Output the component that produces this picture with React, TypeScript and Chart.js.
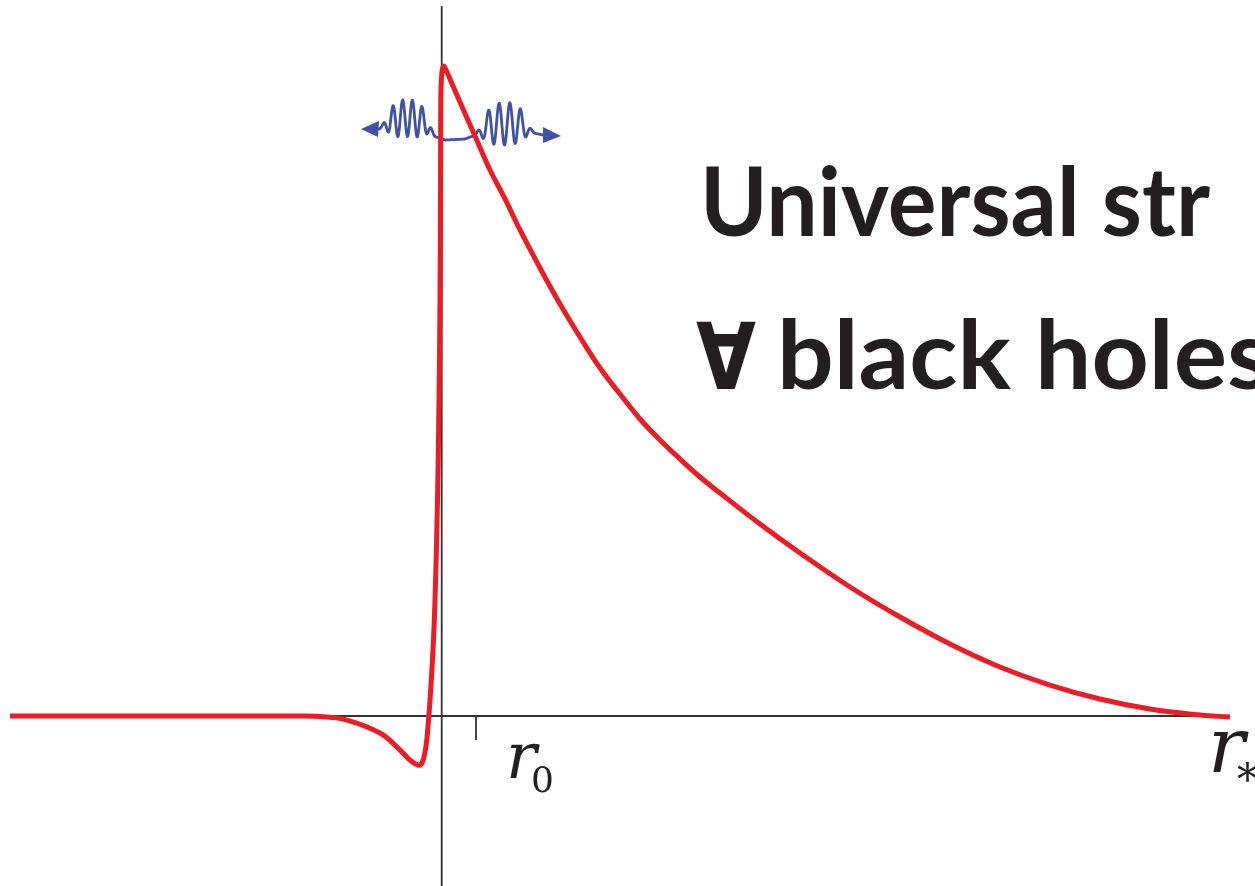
import React, { useEffect, useRef } from "react";
import { Chart, registerables } from "chart.js";

Chart.register(...registerables);

// Tortoise coordinate r* (x) and effective potential V (y)
const rStar: number[] = [
  -12.314, -6.886, -4.029, -3.457, -2.686, -1.743, -1.257, -0.886, -0.657, -0.543,
  -0.457, -0.4, -0.314, -0.229, -0.171, -0.1, -0.057, -0.029, -0.014, -0.009,
  0.0, 0.029, 0.071, 0.143, 0.343, 0.629, 0.971, 1.4, 1.829, 2.257,
  2.829, 3.4, 3.971, 4.543, 5.114, 5.686, 6.257, 6.829, 7.4, 7.971,
  9.114, 10.257, 11.686, 13.114, 14.543, 15.971, 17.4, 18.829, 20.257, 21.686,
  22.543,
];
const potential: number[] = [
  0, 0, 0, -0.0008, -0.0062, -0.0262, -0.0477, -0.0677, -0.0754, -0.0723,
  -0.0554, -0.0338, 0.0246, 0.1015, 0.1785, 0.3323, 0.4862, 0.64, 0.7938, 0.9015,
  0.9662, 0.9908, 1.0, 0.9938, 0.9692, 0.9338, 0.8923, 0.84, 0.7954, 0.7477,
  0.6892, 0.6338, 0.5831, 0.5354, 0.4954, 0.4569, 0.4246, 0.3954, 0.3677, 0.3431,
  0.2954, 0.2508, 0.1985, 0.1523, 0.1108, 0.0754, 0.0477, 0.0262, 0.0108, 0.0015,
  -0.0015,
];

const xRange: number[] = [-12.6, 23.257];
const yRange: number[] = [-0.2615, 1.1015];
const hAxisExtent: number[] = [-12.314, 22.543];
const vAxisExtent: number[] = [-0.2615, 1.0923];
const tickPositions: number[] = [1];
const tickLabels: string[] = ["r", "r"];
const tickSubs: string[] = ["0", "*"];
const titleLine1 = "Universal str";
const titleLine2Symbol = "∀";
const titleLine2Words = "black holes";

const RED = "#ED1C24";
const BLUE = "#4052A6";
const INK = "#231F20";
const AXIS = "#333333";

const decorPlugin = {
  id: "decor",
  beforeDatasetsDraw(chart: any) {
    const { ctx, scales } = chart;
    const xs = scales.x;
    const ys = scales.y;
    const ox = xs.getPixelForValue(0);
    const oy = ys.getPixelForValue(0);
    ctx.save();
    ctx.strokeStyle = AXIS;
    ctx.lineWidth = 1.8;
    ctx.beginPath();
    ctx.moveTo(xs.getPixelForValue(hAxisExtent[0]), oy);
    ctx.lineTo(xs.getPixelForValue(hAxisExtent[1]), oy);
    ctx.moveTo(ox + 0.7, ys.getPixelForValue(vAxisExtent[1]));
    ctx.lineTo(ox + 0.7, ys.getPixelForValue(vAxisExtent[0]));
    tickPositions.forEach((t) => {
      const tx = xs.getPixelForValue(t);
      ctx.moveTo(tx, oy);
      ctx.lineTo(tx, oy + 24);
    });
    ctx.stroke();

    // wave-packet glyph (pixel offsets relative to the axes' origin)
    const dx = ox - 441;
    const dy = oy - 716;
    const base = [
      [377, 129], [388, 127], [408, 126], [426, 128], [434, 136], [445, 140],
      [465, 139], [478, 134], [490, 131], [505, 131], [520, 130], [530, 132], [543, 135],
    ];
    const b = (x: number) => {
      for (let i = 0; i < base.length - 1; i++) {
        const [x0, y0] = base[i];
        const [x1, y1] = base[i + 1];
        if (x >= x0 && x <= x1) return y0 + ((y1 - y0) * (x - x0)) / (x1 - x0);
      }
      return base[base.length - 1][1];
    };
    const packets = [
      { c: 407.5, P: 9.7, w: 21, lift: 8, amp: 18.5 },
      { c: 504.5, P: 10.7, w: 22, lift: 7, amp: 21 },
    ];
    ctx.strokeStyle = BLUE;
    ctx.fillStyle = BLUE;
    ctx.lineWidth = 2.8;
    ctx.lineJoin = "round";
    ctx.lineCap = "round";
    ctx.beginPath();
    let first = true;
    for (let x = 377; x <= 545; x += 0.4) {
      let y = b(x);
      packets.forEach((p) => {
        const d = x - p.c;
        const env = Math.exp(-Math.pow(d / p.w, 4));
        y -= env * (p.lift - p.amp * Math.cos((2 * Math.PI * d) / p.P));
      });
      if (first) {
        ctx.moveTo(x + dx, y + dy);
        first = false;
      } else ctx.lineTo(x + dx, y + dy);
    }
    ctx.stroke();
    ctx.beginPath();
    ctx.moveTo(361 + dx, 129 + dy);
    ctx.lineTo(379 + dx, 121 + dy);
    ctx.lineTo(378 + dx, 137 + dy);
    ctx.closePath();
    ctx.fill();
    ctx.beginPath();
    ctx.moveTo(561 + dx, 136 + dy);
    ctx.lineTo(543 + dx, 127 + dy);
    ctx.lineTo(543 + dx, 143 + dy);
    ctx.closePath();
    ctx.fill();
    ctx.restore();
  },
  afterDatasetsDraw(chart: any) {
    const { ctx, scales } = chart;
    const xs = scales.x;
    const ys = scales.y;
    const ox = xs.getPixelForValue(0);
    const oy = ys.getPixelForValue(0);
    ctx.save();
    ctx.fillStyle = INK;
    ctx.textBaseline = "alphabetic";
    ctx.textAlign = "left";

    // r0 tick label
    const t0 = xs.getPixelForValue(tickPositions[0]);
    ctx.font = 'italic 64px "DejaVu Serif"';
    ctx.fillText(tickLabels[0], t0 + 30, oy + 62);
    ctx.font = '36px "DejaVu Serif"';
    ctx.fillText(tickSubs[0], t0 + 55, oy + 76);

    // r* axis label
    const xr = xs.getPixelForValue(hAxisExtent[1]);
    ctx.font = 'italic 77px "DejaVu Serif"';
    ctx.fillText(tickLabels[1], xr - 22, oy + 56);
    ctx.font = '42px "DejaVu Serif"';
    ctx.fillText(tickSubs[1], xr + 7, oy + 78);

    // title text
    ctx.font = 'bold 95px Lato, "DejaVu Sans"';
    const w1 = ctx.measureText(titleLine1).width;
    const sx1 = 510 / w1;
    ctx.save();
    ctx.translate(ox + 259, oy - 480);
    ctx.scale(sx1, 1);
    ctx.fillText(titleLine1, 0, 0);
    ctx.restore();

    ctx.save();
    ctx.translate(ox + 255, oy - 327);
    ctx.font = 'bold 92px "DejaVu Sans"';
    const ws = ctx.measureText(titleLine2Symbol).width;
    ctx.scale(60 / ws, 1);
    ctx.fillText(titleLine2Symbol, 0, 0);
    ctx.restore();

    ctx.save();
    ctx.font = 'bold 95px Lato, "DejaVu Sans"';
    const w2 = ctx.measureText("black hole").width;
    const sx2 = 450 / w2;
    ctx.translate(ox + 336, oy - 327);
    ctx.scale(sx2, 1);
    ctx.fillText(titleLine2Words, 0, 0);
    ctx.restore();
    ctx.restore();
  },
};

export default function App() {
  const ref = useRef<HTMLCanvasElement | null>(null);
  useEffect(() => {
    if (!ref.current) return;
    const data = rStar.map((x, i) => ({ x, y: potential[i] }));
    const chart = new Chart(ref.current, {
      type: "scatter",
      data: {
        datasets: [
          {
            data,
            showLine: true,
            borderColor: RED,
            backgroundColor: RED,
            borderWidth: 5,
            pointRadius: 0,
            tension: 0.4,
            borderCapStyle: "butt",
            borderJoinStyle: "round",
          } as any,
        ],
      },
      options: {
        animation: false,
        responsive: true,
        maintainAspectRatio: false,
        layout: { padding: 0 },
        scales: {
          x: { type: "linear", min: xRange[0], max: xRange[1], display: false },
          y: { type: "linear", min: yRange[0], max: yRange[1], display: false },
        },
        plugins: { legend: { display: false }, tooltip: { enabled: false } },
      },
      plugins: [decorPlugin],
    });
    return () => chart.destroy();
  }, []);
  return (
    <div style={{ position: "absolute", left: 0, top: 0, width: 1255, height: 886, background: "#fff" }}>
      <canvas ref={ref} />
    </div>
  );
}
